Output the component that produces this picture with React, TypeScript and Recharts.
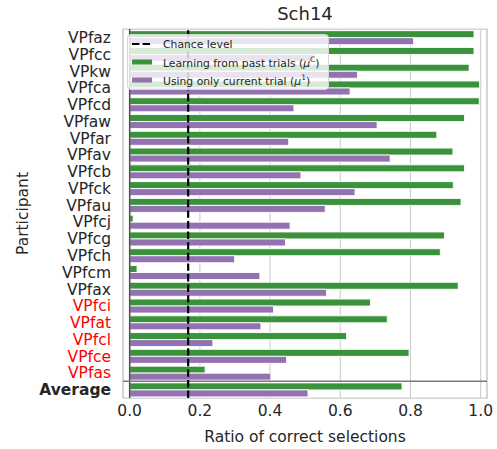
import React from "react";
import {
  BarChart,
  Bar,
  XAxis,
  YAxis,
  CartesianGrid,
  ReferenceLine,
  ReferenceArea,
  Legend,
} from "recharts";

const PARTICIPANTS = [
  "VPfaz", "VPfcc", "VPkw", "VPfca", "VPfcd", "VPfaw", "VPfar", "VPfav",
  "VPfcb", "VPfck", "VPfau", "VPfcj", "VPfcg", "VPfch", "VPfcm", "VPfax",
  "VPfci", "VPfat", "VPfcl", "VPfce", "VPfas", "Average",
];
// learning from past trials (mu^C)
const PAST_TRIALS = [
  0.981, 0.981, 0.967, 0.997, 0.996, 0.954, 0.875, 0.921, 0.954, 0.922, 0.944,
  0.01, 0.897, 0.885, 0.021, 0.936, 0.686, 0.734, 0.618, 0.796, 0.215, 0.776,
];
// using only current trial (mu^1)
const CURRENT_TRIAL = [
  0.809, 0.525, 0.649, 0.628, 0.468, 0.705, 0.453, 0.742, 0.488, 0.642, 0.557,
  0.457, 0.444, 0.299, 0.371, 0.561, 0.41, 0.374, 0.237, 0.447, 0.402, 0.508,
];
const RED_PARTICIPANTS = ["VPfci", "VPfat", "VPfcl", "VPfce", "VPfas"];
const X_TICKS = [0, 0.2, 0.4, 0.6, 0.8, 1.0];
const CHANCE_LEVEL = 1 / 6;

const GREEN = "#3a923a";
const PURPLE = "#9372b2";
const TEXT = "#262626";
const FONT = "'DejaVu Sans', sans-serif";

const data = PARTICIPANTS.map((name, i) => ({
  name,
  past: PAST_TRIALS[i],
  current: CURRENT_TRIAL[i],
}));

function ParticipantTick({ x, y, payload }: any) {
  const name = payload.value;
  const fill = RED_PARTICIPANTS.includes(name) ? "#ff0000" : TEXT;
  return (
    <text
      x={x}
      y={y}
      dy="0.36em"
      textAnchor="end"
      fontSize={15.5}
      fontFamily={FONT}
      fontWeight={name === "Average" ? "bold" : "normal"}
      fill={fill}
    >
      {name}
    </text>
  );
}

function LegendBox() {
  const row: React.CSSProperties = { height: 18, display: "flex", alignItems: "center" };
  const handle: React.CSSProperties = { width: 20, marginLeft: 4, marginRight: 11, display: "block" };
  return (
    <div
      style={{
        width: 202,
        height: 56,
        boxSizing: "border-box",
        border: "1px solid #d6d6d6",
        borderRadius: 4,
        background: "rgba(255,255,255,0.8)",
        fontFamily: FONT,
        fontSize: 10.8,
        color: TEXT,
        whiteSpace: "nowrap",
      }}
    >
      <div style={row}>
        <svg style={handle} width={20} height={6}>
          <line x1={0} y1={3} x2={20} y2={3} stroke="#000" strokeWidth={2} strokeDasharray="7.4 3.2" />
        </svg>
        <span>Chance level</span>
      </div>
      <div style={row}>
        <svg style={handle} width={20} height={6}>
          <rect x={0} y={0.5} width={20} height={5} fill={GREEN} />
        </svg>
        <span>
          Learning from past trials (<i>μ</i>
          <sup style={{ fontSize: 7.5 }}>C</sup>)
        </span>
      </div>
      <div style={row}>
        <svg style={handle} width={20} height={6}>
          <rect x={0} y={0.5} width={20} height={5} fill={PURPLE} />
        </svg>
        <span>
          Using only current trial (<i>μ</i>
          <sup style={{ fontSize: 7.5 }}>1</sup>)
        </span>
      </div>
    </div>
  );
}

export default function App() {
  return (
    <div style={{ position: "absolute", left: 0, top: 0, width: 497, height: 449, background: "#fff" }}>
      <div
        style={{
          position: "absolute",
          left: 123,
          width: 364,
          top: 3,
          textAlign: "center",
          fontFamily: FONT,
          fontSize: 18,
          lineHeight: "22px",
          color: TEXT,
        }}
      >
        Sch14
      </div>
      <BarChart
        width={497}
        height={449}
        data={data}
        layout="vertical"
        margin={{ top: 29, right: 10, bottom: 0, left: 0 }}
        barCategoryGap="10%"
        barGap={0}
      >
        <ReferenceArea
          x1={-0.019}
          x2={1.018}
          fill="none"
          stroke="#cccccc"
          strokeWidth={1.25}
        />
        <CartesianGrid horizontal={false} stroke="#cccccc" strokeWidth={1.1} />
        <XAxis
          type="number"
          domain={[-0.019, 1.018]}
          ticks={X_TICKS}
          tickFormatter={(v: number) => v.toFixed(1)}
          axisLine={false}
          tickLine={false}
          tickSize={0}
          tickMargin={7}
          height={51}
          tick={{ fontSize: 15.5, fill: TEXT, fontFamily: FONT }}
          label={{
            content: ({ viewBox }: any) => (
              <text
                x={viewBox.x + viewBox.width / 2}
                y={viewBox.y + viewBox.height - 7}
                textAnchor="middle"
                fontSize={15.5}
                fontFamily={FONT}
                fill={TEXT}
              >
                Ratio of correct selections
              </text>
            ),
          }}
        />
        <YAxis
          type="category"
          dataKey="name"
          width={123}
          axisLine={false}
          tickLine={false}
          tickSize={0}
          tickMargin={12}
          interval={0}
          tick={<ParticipantTick />}
          label={{
            content: ({ viewBox }: any) => {
              const cx = viewBox.x + 28;
              const cy = viewBox.y + viewBox.height / 2;
              return (
                <text
                  x={cx}
                  y={cy}
                  transform={`rotate(-90, ${cx}, ${cy})`}
                  textAnchor="middle"
                  fontSize={15.5}
                  fontFamily={FONT}
                  fill={TEXT}
                >
                  Participant
                </text>
              );
            },
          }}
        />
        <Bar dataKey="past" fill={GREEN} stroke="#fff" strokeWidth={0.9} isAnimationActive={false} />
        <Bar dataKey="current" fill={PURPLE} stroke="#fff" strokeWidth={0.9} isAnimationActive={false} />
        <ReferenceLine x={0} stroke="#4d4d4d" strokeWidth={1.5} />
        <ReferenceLine y="Average" position="start" stroke="#7a7a7a" strokeWidth={1.5} />
        <ReferenceLine
          x={CHANCE_LEVEL}
          stroke="#000"
          strokeWidth={2.2}
          strokeDasharray="7.4 3.2"
        />
        <Legend
          layout="vertical"
          align="center"
          verticalAlign="middle"
          wrapperStyle={{ left: 127, top: 34, width: 202 }}
          content={() => <LegendBox />}
        />
      </BarChart>
    </div>
  );
}
